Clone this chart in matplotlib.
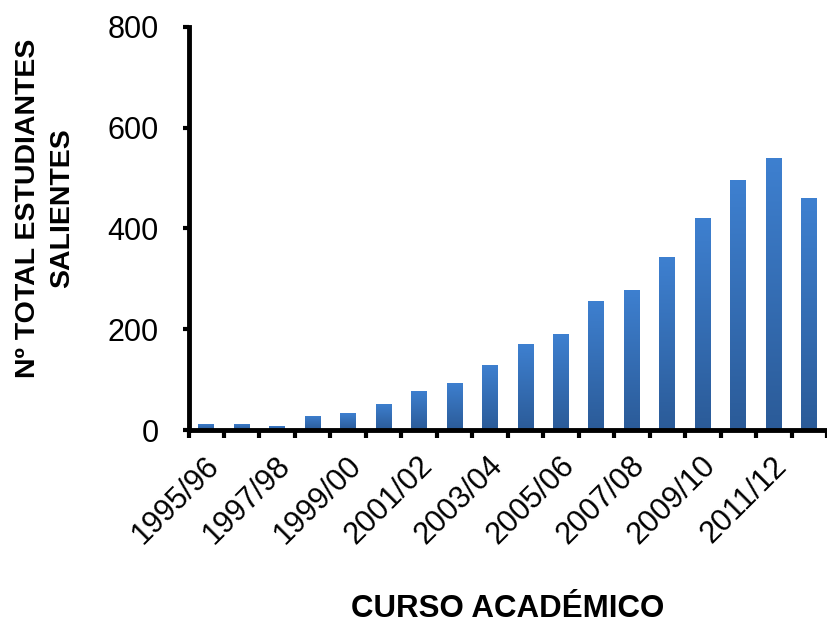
import numpy as np
import matplotlib
matplotlib.use("Agg")
import matplotlib.pyplot as plt
import matplotlib.transforms as mtransforms
from matplotlib.colors import LinearSegmentedColormap

plt.rcParams['font.family'] = ['Liberation Sans', 'DejaVu Sans']

cursos = ["1995/96", "1996/97", "1997/98", "1998/99", "1999/00", "2000/01",
          "2001/02", "2002/03", "2003/04", "2004/05", "2005/06", "2006/07",
          "2007/08", "2008/09", "2009/10", "2010/11", "2011/12", "2012/13"]
estudiantes = [13, 13, 9, 28, 33, 52, 78, 94, 130, 170, 190, 256,
               278, 343, 420, 496, 540, 460]
yticks = [0, 200, 400, 600, 800]

fig = plt.figure(figsize=(8.27, 6.26), dpi=100)
ax = fig.add_axes([0.228, 0.313, 0.772, 0.644])

x = np.arange(len(cursos))
bars = ax.bar(x, estudiantes, width=0.45, color='none', edgecolor='none', zorder=2)

cmap = LinearSegmentedColormap.from_list('g', ['#2b5b98', '#3e80d0'])
grad = np.linspace(0, 1, 256).reshape(-1, 1)
for b in bars:
    x0, y0 = b.get_x(), b.get_y()
    w, h = b.get_width(), b.get_height()
    im = ax.imshow(grad, cmap=cmap, origin='lower', aspect='auto',
                   extent=[x0, x0 + w, y0, y0 + h], zorder=2)
    im.set_clip_path(b)

ax.set_xlim(-0.5, len(cursos) - 0.5)
ax.set_ylim(0, 800)
ax.set_yticks(yticks)
ax.tick_params(axis='y', labelsize=22, length=4.5, width=3, direction='out', pad=17)

ax.set_xticks(np.arange(len(cursos) + 1) - 0.5)
ax.set_xticklabels([])
ax.tick_params(axis='x', which='major', length=5.5, width=3, direction='out')
ax.set_xticks(x, minor=True)
ax.set_xticklabels([c if i % 2 == 0 else '' for i, c in enumerate(cursos)],
                   minor=True, rotation=45, ha='right', va='top',
                   rotation_mode='anchor', fontsize=22)
ax.tick_params(axis='x', which='minor', length=0, pad=15)
offset = mtransforms.ScaledTranslation(-0.02, 0, fig.dpi_scale_trans)
for lbl in ax.xaxis.get_minorticklabels():
    lbl.set_transform(lbl.get_transform() + offset)

for s in ['top', 'right']:
    ax.spines[s].set_visible(False)
for s in ['left', 'bottom']:
    ax.spines[s].set_linewidth(3.5)

fig.text(0.055, 0.668, 'Nº TOTAL ESTUDIANTES\nSALIENTES', rotation=90,
         ha='center', va='center', fontsize=20.5, fontweight='bold',
         linespacing=1.4)
fig.text(0.614, 0.003, 'CURSO ACADÉMICO', ha='center', va='bottom',
         fontsize=22.5, fontweight='bold')

fig.savefig('out.png', dpi=100)
